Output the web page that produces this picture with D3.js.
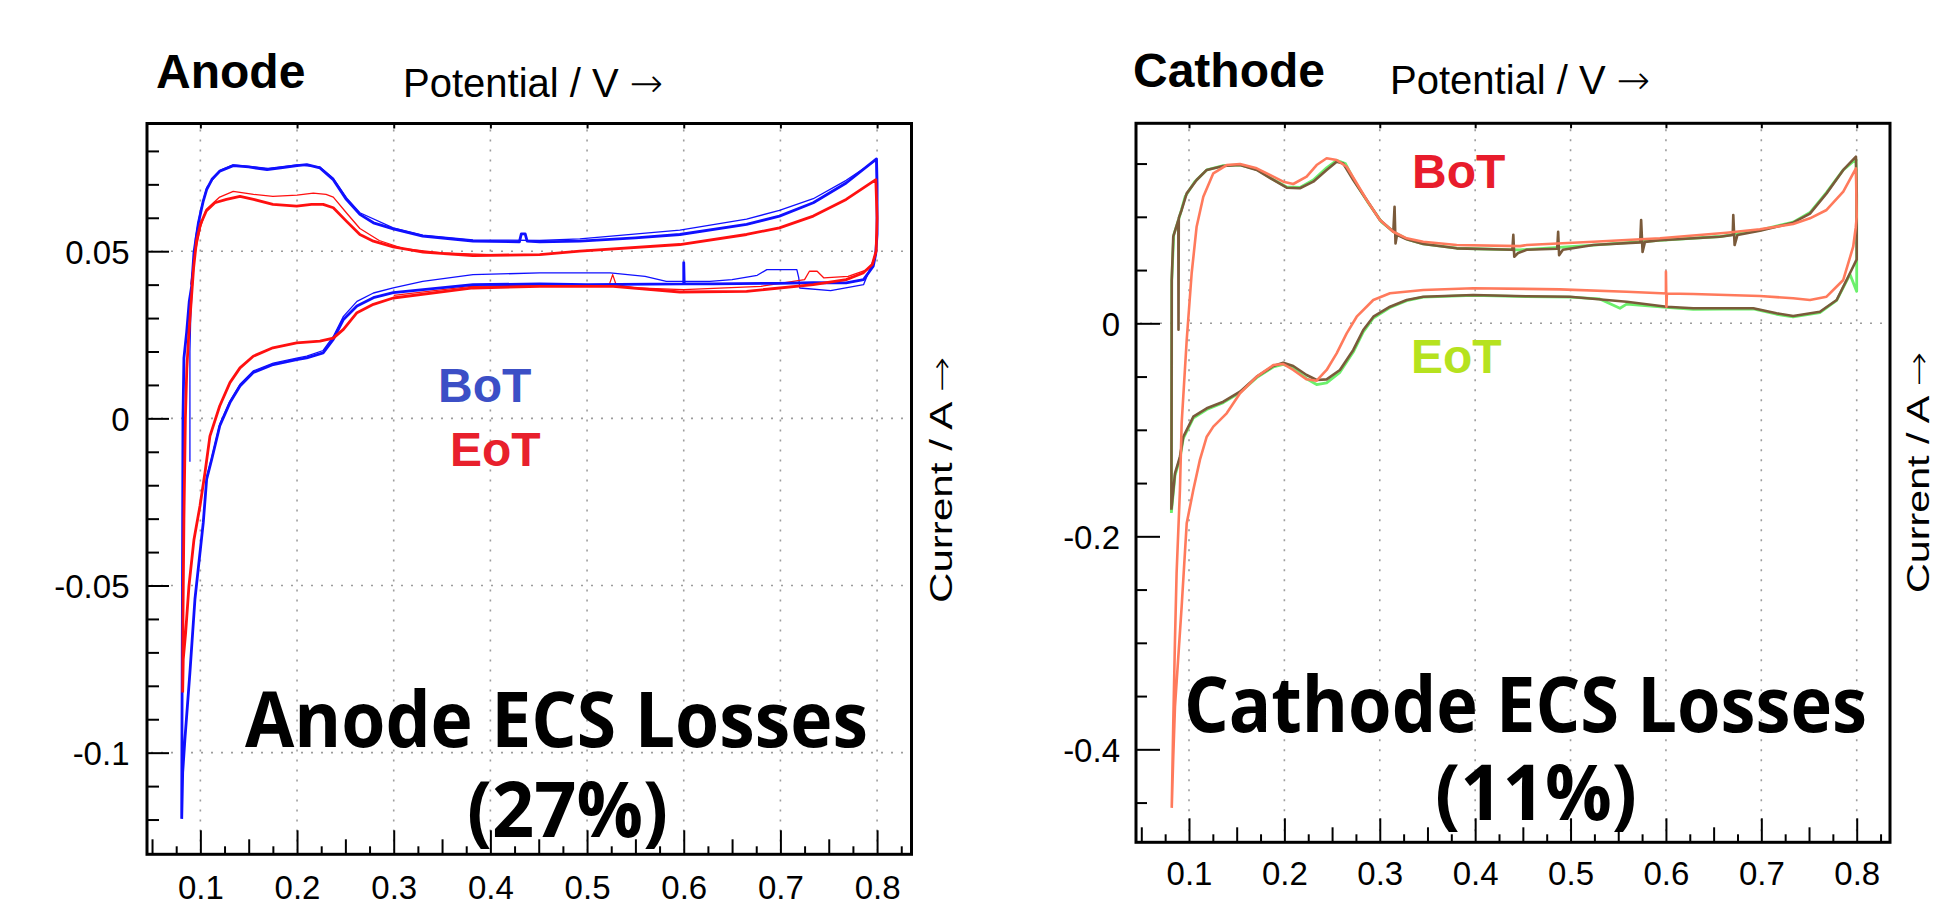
<!DOCTYPE html>
<html><head><meta charset="utf-8">
<script src="https://cdn.jsdelivr.net/npm/d3@7"></script>
<style>
html,body{margin:0;padding:0;background:#fff;}
svg{display:block;}
</style></head><body>
<svg id="c" width="1940" height="900"></svg>
<script>
// ---------------- DATA ----------------
const xTickValues = [0.1,0.2,0.3,0.4,0.5,0.6,0.7,0.8];
const xTickLabels = ["0.1","0.2","0.3","0.4","0.5","0.6","0.7","0.8"];
const xMidTicks = [0.05,0.15,0.25,0.35,0.45,0.55,0.65,0.75];
const xMinorTicks = [0.075,0.125,0.175,0.225,0.275,0.325,0.375,0.425,0.475,0.525,0.575,0.625,0.675,0.725,0.775,0.825];

const anodeYTickValues = [0.05,0,-0.05,-0.1];
const anodeYTickLabels = ["0.05","0","-0.05","-0.1"];
const anodeYMinorTicks = [0.08,0.07,0.06,0.04,0.03,0.02,0.01,-0.01,-0.02,-0.03,-0.04,-0.06,-0.07,-0.08,-0.09,-0.11,-0.12];

const cathodeYTickValues = [0,-0.2,-0.4];
const cathodeYTickLabels = ["0","-0.2","-0.4"];
const cathodeYMinorTicks = [0.15,0.1,0.05,-0.05,-0.1,-0.15,-0.25,-0.3,-0.35,-0.45];
const cathodeYGrid = [0];

// Anode, BoT, main cycle (potential V, current A)
const anodeBoT1 = [[0.0807,-0.1198],[0.0810,-0.090],[0.0815,-0.050],[0.0820,0.000],[0.0830,0.018],[0.0858,0.0257],[0.0885,0.035],[0.0910,0.0395],[0.0934,0.0496],[0.0980,0.0585],[0.1030,0.0650],[0.1065,0.0684],[0.1120,0.0715],[0.1200,0.0739],[0.1340,0.0756],[0.1500,0.0752],[0.1690,0.0744],[0.1850,0.0750],[0.2000,0.0756],[0.2100,0.0759],[0.2237,0.0749],[0.2375,0.0714],[0.2510,0.0655],[0.2650,0.0610],[0.2790,0.0585],[0.2995,0.0567],[0.3300,0.0545],[0.3820,0.0530],[0.4300,0.0528],[0.4320,0.0552],[0.4360,0.0552],[0.4380,0.0530],[0.4510,0.0528],[0.4925,0.0530],[0.5500,0.0540],[0.5960,0.0550],[0.6650,0.0580],[0.6990,0.0605],[0.7340,0.0645],[0.7680,0.0704],[0.7994,0.0776],[0.8000,0.0700],[0.8000,0.0550],[0.7985,0.0490],[0.7960,0.0455],[0.7860,0.0415],[0.7680,0.0405],[0.7340,0.0406],[0.6990,0.0404],[0.6300,0.0402],[0.6000,0.0402],[0.6000,0.0466],[0.6005,0.0402],[0.5000,0.0400],[0.4510,0.0402],[0.3820,0.0400],[0.2995,0.0376],[0.2790,0.0361],[0.2620,0.0336],[0.2480,0.0296],[0.2375,0.0236],[0.2270,0.0196],[0.2100,0.0181],[0.1996,0.0176],[0.1754,0.0161],[0.1547,0.0137],[0.1410,0.0097],[0.1306,0.0047],[0.1200,-0.0023],[0.1117,-0.0123],[0.1065,-0.0182],[0.1030,-0.0312],[0.0944,-0.0541],[0.0892,-0.0760],[0.0840,-0.0960],[0.0817,-0.1060],[0.0807,-0.1198]];
// Anode, BoT, second cycle
const anodeBoT2 = [[0.0892,-0.0130],[0.0892,0.0200],[0.0900,0.0300],[0.0920,0.0420],[0.0950,0.0540],[0.1000,0.0620],[0.1065,0.0690],[0.1200,0.0742],[0.1340,0.0758],[0.1700,0.0748],[0.2000,0.0758],[0.2237,0.0752],[0.2375,0.0718],[0.2510,0.0660],[0.2650,0.0615],[0.2995,0.0570],[0.3300,0.0548],[0.3820,0.0534],[0.4510,0.0532],[0.4925,0.0537],[0.5960,0.0563],[0.6650,0.0596],[0.6990,0.0622],[0.7340,0.0657],[0.7680,0.0712],[0.7990,0.0772],[0.8000,0.0600],[0.7990,0.0500],[0.7970,0.0480],[0.7860,0.0400],[0.7520,0.0382],[0.7200,0.0390],[0.7190,0.0420],[0.7170,0.0445],[0.6860,0.0445],[0.6760,0.0428],[0.6500,0.0415],[0.6270,0.0410],[0.5820,0.0410],[0.5600,0.0425],[0.5240,0.0435],[0.4510,0.0435],[0.3820,0.0430],[0.3300,0.0410],[0.2995,0.0390],[0.2790,0.0375],[0.2620,0.0350],[0.2480,0.0305],[0.2375,0.0245],[0.2270,0.0203],[0.2100,0.0186],[0.1996,0.0180],[0.1754,0.0165],[0.1547,0.0142],[0.1410,0.0102],[0.1306,0.0052],[0.1200,-0.0018],[0.1117,-0.0118],[0.1065,-0.0175]];
// Anode, EoT, main cycle
const anodeEoT1 = [[0.0817,-0.0820],[0.0820,-0.060],[0.0830,-0.030],[0.0845,0.000],[0.0860,0.015],[0.0880,0.025],[0.0905,0.035],[0.0930,0.045],[0.0960,0.0530],[0.1000,0.0580],[0.1060,0.0620],[0.1150,0.0645],[0.1270,0.0655],[0.1410,0.0664],[0.1550,0.0655],[0.1750,0.0640],[0.1996,0.0635],[0.2150,0.0640],[0.2270,0.0640],[0.2375,0.0630],[0.2510,0.0590],[0.2650,0.0550],[0.2790,0.0530],[0.2995,0.0513],[0.3305,0.0497],[0.3820,0.0487],[0.4510,0.0490],[0.4925,0.0500],[0.5960,0.0520],[0.6650,0.0550],[0.6990,0.0570],[0.7340,0.0605],[0.7680,0.0655],[0.7987,0.0714],[0.8000,0.0600],[0.7990,0.0500],[0.7950,0.0460],[0.7855,0.0435],[0.7680,0.0415],[0.7340,0.0400],[0.6650,0.0380],[0.5960,0.0378],[0.5270,0.0395],[0.4510,0.0395],[0.3820,0.0390],[0.2995,0.0360],[0.2790,0.0341],[0.2620,0.0316],[0.2480,0.0266],[0.2375,0.0240],[0.2237,0.0231],[0.1996,0.0226],[0.1750,0.0211],[0.1547,0.0186],[0.1410,0.0151],[0.1306,0.0107],[0.1200,0.0037],[0.1099,-0.0053],[0.1048,-0.0162],[0.0996,-0.0262],[0.0934,-0.0362],[0.0882,-0.0501],[0.0848,-0.0640],[0.0823,-0.0720],[0.0817,-0.0820]];
// Anode, EoT, second cycle (upper and lower parts)
const anodeEoT2a = [[0.0900,0.0400],[0.0950,0.0500],[0.1000,0.0570],[0.1060,0.0625],[0.1200,0.0662],[0.1340,0.0679],[0.1550,0.0670],[0.1750,0.0664],[0.2000,0.0668],[0.2168,0.0674],[0.2300,0.0670],[0.2375,0.0662],[0.2510,0.0615],[0.2650,0.0568],[0.2850,0.0532],[0.3100,0.0508],[0.3500,0.0495],[0.4000,0.0490]];
const anodeEoT2b = [[0.7900,0.0445],[0.7700,0.0425],[0.7450,0.0420],[0.7380,0.0440],[0.7300,0.0440],[0.7250,0.0415],[0.6800,0.0395],[0.6000,0.0385],[0.5500,0.0390],[0.5300,0.0400],[0.5265,0.0430],[0.5230,0.0400],[0.4500,0.0398],[0.3800,0.0395],[0.3000,0.0368]];

// Cathode curves
const cathodeGreen = [[0.0815,-0.178],[0.0817,-0.120],[0.0819,0.0400],[0.0840,0.0830],[0.0900,0.1000],[0.0960,0.1190],[0.1060,0.1330],[0.1186,0.1440],[0.1360,0.1480],[0.1535,0.1488],[0.1710,0.1445],[0.1884,0.1350],[0.2024,0.1280],[0.2163,0.1275],[0.2303,0.1345],[0.2443,0.1460],[0.2548,0.1530],[0.2640,0.1500],[0.2740,0.1330],[0.2880,0.1130],[0.3020,0.0950],[0.3160,0.0850],[0.3300,0.0785],[0.3456,0.0745],[0.3806,0.0705],[0.4470,0.0690],[0.5240,0.0735],[0.5937,0.0780],[0.6566,0.0815],[0.6985,0.0875],[0.7334,0.0950],[0.7510,0.1040],[0.7684,0.1230],[0.7859,0.1440],[0.7992,0.1540],[0.8000,0.1200],[0.8000,0.0300],[0.7929,0.0460],[0.7790,0.0215],[0.7614,0.0100],[0.7334,0.0060],[0.7160,0.0085],[0.6915,0.0135],[0.6286,0.0130],[0.6007,0.0150],[0.5588,0.0180],[0.5518,0.0141],[0.5300,0.0230],[0.4994,0.0245],[0.4540,0.0250],[0.3980,0.0262],[0.3456,0.0245],[0.3282,0.0212],[0.3107,0.0148],[0.2933,0.0050],[0.2827,-0.0080],[0.2722,-0.0270],[0.2582,-0.0460],[0.2443,-0.0560],[0.2338,-0.0575],[0.2233,-0.0520],[0.2093,-0.0420],[0.1988,-0.0385],[0.1884,-0.0410],[0.1710,-0.0510],[0.1535,-0.0650],[0.1360,-0.0745],[0.1186,-0.0810],[0.1045,-0.0890],[0.0940,-0.1080],[0.0905,-0.1270],[0.0853,-0.1430],[0.0819,-0.1740],[0.0815,-0.178]];
const cathodeBrown = [[0.0815,-0.175],[0.0817,-0.100],[0.0819,0.0407],[0.0835,0.0813],[0.0888,0.0970],[0.0890,-0.0060],[0.0893,0.0990],[0.0923,0.1064],[0.0976,0.1220],[0.1080,0.1346],[0.1186,0.1440],[0.1360,0.1477],[0.1535,0.1486],[0.1710,0.1440],[0.1884,0.1346],[0.2024,0.1273],[0.2163,0.1268],[0.2303,0.1330],[0.2443,0.1440],[0.2548,0.1518],[0.2617,0.1500],[0.2722,0.1346],[0.2863,0.1158],[0.3002,0.0970],[0.3142,0.0860],[0.3155,0.1095],[0.3165,0.0750],[0.3180,0.0830],[0.3282,0.0789],[0.3456,0.0745],[0.3806,0.0704],[0.4390,0.0690],[0.4400,0.0830],[0.4410,0.0625],[0.4450,0.0660],[0.4540,0.0690],[0.4860,0.0700],[0.4870,0.0860],[0.4880,0.0640],[0.4920,0.0690],[0.5240,0.0735],[0.5730,0.0760],[0.5740,0.0970],[0.5755,0.0670],[0.5780,0.0765],[0.5937,0.0780],[0.6566,0.0813],[0.6700,0.0830],[0.6706,0.1017],[0.6720,0.0735],[0.6750,0.0830],[0.6985,0.0870],[0.7334,0.0945],[0.7510,0.1030],[0.7684,0.1220],[0.7859,0.1440],[0.7992,0.1565],[0.8000,0.1200],[0.8000,0.0600],[0.7929,0.0470],[0.7790,0.0219],[0.7614,0.0109],[0.7334,0.0069],[0.7160,0.0094],[0.6915,0.0141],[0.6286,0.0141],[0.6007,0.0156],[0.5588,0.0203],[0.4994,0.0250],[0.4540,0.0254],[0.3980,0.0266],[0.3456,0.0250],[0.3282,0.0219],[0.3107,0.0156],[0.2933,0.0062],[0.2827,-0.0063],[0.2722,-0.0250],[0.2582,-0.0438],[0.2443,-0.0526],[0.2338,-0.0532],[0.2233,-0.0485],[0.2093,-0.0401],[0.1988,-0.0370],[0.1884,-0.0401],[0.1710,-0.0501],[0.1535,-0.0642],[0.1360,-0.0736],[0.1186,-0.0798],[0.1045,-0.0877],[0.0940,-0.1065],[0.0905,-0.1253],[0.0853,-0.1408],[0.0819,-0.1720],[0.0815,-0.175]];
const cathodeSalmon = [[0.0819,-0.455],[0.0835,-0.3756],[0.0853,-0.2970],[0.0870,-0.2347],[0.0905,-0.1565],[0.0923,-0.0939],[0.0976,-0.0157],[0.1028,0.0470],[0.1080,0.0907],[0.1150,0.1189],[0.1255,0.1408],[0.1395,0.1486],[0.1535,0.1496],[0.1710,0.1455],[0.1884,0.1377],[0.1988,0.1330],[0.2093,0.1308],[0.2233,0.1377],[0.2338,0.1486],[0.2443,0.1550],[0.2548,0.1533],[0.2653,0.1470],[0.2758,0.1315],[0.2863,0.1158],[0.3002,0.0970],[0.3142,0.0860],[0.3282,0.0798],[0.3456,0.0766],[0.3806,0.0735],[0.4470,0.0725],[0.4540,0.0735],[0.5240,0.0766],[0.5937,0.0798],[0.6636,0.0851],[0.6985,0.0883],[0.7334,0.0932],[0.7510,0.0986],[0.7684,0.1064],[0.7859,0.1236],[0.7992,0.1455],[0.8000,0.1000],[0.7990,0.0900],[0.7963,0.0719],[0.7859,0.0407],[0.7684,0.0250],[0.7510,0.0219],[0.7334,0.0235],[0.6985,0.0256],[0.6286,0.0275],[0.6000,0.0280],[0.6000,0.0485],[0.6005,0.0156],[0.6010,0.0280],[0.5588,0.0297],[0.4889,0.0319],[0.3980,0.0329],[0.3456,0.0313],[0.3107,0.0282],[0.2932,0.0219],[0.2758,0.0062],[0.2653,-0.0094],[0.2548,-0.0282],[0.2443,-0.0438],[0.2338,-0.0539],[0.2233,-0.0526],[0.2093,-0.0438],[0.1988,-0.0382],[0.1884,-0.0392],[0.1710,-0.0501],[0.1535,-0.0657],[0.1395,-0.0845],[0.1255,-0.0970],[0.1186,-0.1065],[0.1115,-0.1280],[0.1045,-0.1565],[0.0976,-0.1878],[0.0923,-0.2660],[0.0888,-0.3130],[0.0853,-0.3600],[0.0835,-0.4070],[0.0819,-0.455]];

// ---------------- DRAW ----------------
const svg = d3.select("#c");
const SANS = "'Liberation Sans', Arial, sans-serif";
const ARROWF = "'DejaVu Sans', sans-serif";
const BIG = "'Open Sans', 'Noto Sans', sans-serif";

function panel(cfg){
  const g = svg.append("g");
  const x = d3.scaleLinear().domain(cfg.xDomain).range([cfg.left, cfg.right]);
  const y = d3.scaleLinear().domain(cfg.yDomain).range([cfg.bottom, cfg.top]);

  // grid
  g.append("g").selectAll("line").data(xTickValues).join("line")
    .attr("x1", d=>x(d)).attr("x2", d=>x(d)).attr("y1", cfg.top+6).attr("y2", cfg.bottom-4)
    .attr("stroke","#9c9c9c").attr("stroke-width",1.6).attr("stroke-dasharray","2,8");
  g.append("g").selectAll("line").data(cfg.yGrid).join("line")
    .attr("y1", d=>y(d)).attr("y2", d=>y(d)).attr("x1", cfg.left+4).attr("x2", cfg.right-4)
    .attr("stroke","#9c9c9c").attr("stroke-width",1.6).attr("stroke-dasharray","2,8");

  // curves
  const line = d3.line().x(d=>x(d[0])).y(d=>y(d[1]));
  cfg.series.forEach(s=>{
    g.append("path").datum(s.data).attr("d", line)
      .attr("fill","none").attr("stroke", s.color).attr("stroke-width", s.width)
      .attr("stroke-linejoin","round");
  });

  // axes
  const fmtY = (d)=>cfg.yLabels[cfg.yTicks.indexOf(d)];
  const fmtX = (d)=>xTickLabels[xTickValues.indexOf(d)];
  const ax = [];
  ax.push(g.append("g").attr("transform",`translate(${cfg.left},0)`)
    .call(d3.axisLeft(y).tickValues(cfg.yTicks).tickSize(-cfg.yMajorLen).tickPadding(cfg.yPad).tickFormat(fmtY)));
  ax.push(g.append("g").attr("transform",`translate(${cfg.left},0)`)
    .call(d3.axisLeft(y).tickValues(cfg.yMinor).tickSize(-cfg.yMinorLen).tickFormat("")));
  ax.push(g.append("g").attr("transform",`translate(0,${cfg.bottom})`)
    .call(d3.axisBottom(x).tickValues(xTickValues).tickSize(-24).tickPadding(cfg.xPad).tickFormat(fmtX)));
  ax.push(g.append("g").attr("transform",`translate(0,${cfg.bottom})`)
    .call(d3.axisBottom(x).tickValues(xMidTicks.filter(v=>v>cfg.xDomain[0]&&v<cfg.xDomain[1])).tickSize(-15).tickFormat("")));
  ax.push(g.append("g").attr("transform",`translate(0,${cfg.bottom})`)
    .call(d3.axisBottom(x).tickValues(xMinorTicks.filter(v=>v>cfg.xDomain[0]&&v<cfg.xDomain[1])).tickSize(-8).tickFormat("")));
  ax.push(g.append("g").attr("transform",`translate(0,${cfg.top})`)
    .call(d3.axisTop(x).tickValues(xTickValues).tickSize(-5).tickFormat("")));
  ax.forEach(a=>{
    a.select(".domain").remove();
    a.selectAll(".tick line").attr("stroke","#000").attr("stroke-width",2);
    a.selectAll("text").attr("font-family",SANS).attr("font-size",33).attr("fill","#000");
  });
  ax[0].selectAll("text").attr("dy","0.36em");

  // frame
  g.append("rect").attr("x",cfg.left).attr("y",cfg.top)
    .attr("width",cfg.right-cfg.left).attr("height",cfg.bottom-cfg.top)
    .attr("fill","none").attr("stroke","#000").attr("stroke-width",3);

  // titles
  g.append("text").attr("x",cfg.titleX).attr("y",cfg.titleY).text(cfg.title)
    .attr("font-family",SANS).attr("font-weight","bold").attr("font-size",48);
  const pt = g.append("text").attr("x",cfg.potX).attr("y",cfg.potY)
    .attr("font-family",SANS).attr("font-size",40);
  pt.append("tspan").text("Potential / V ");
  pt.append("tspan").attr("font-family",ARROWF).attr("font-weight",200).text("\u2192");
  const ct = g.append("text").attr("transform",`translate(${cfg.curX},${cfg.curY}) rotate(-90)`)
    .attr("font-family",SANS).attr("font-size",31)
    .attr("textLength",cfg.curLen).attr("lengthAdjust","spacingAndGlyphs");
  ct.append("tspan").text("Current / A ");
  ct.append("tspan").attr("font-family",ARROWF).attr("font-weight",200).text("\u2192");

  // labels
  cfg.labels.forEach(l=>{
    g.append("text").attr("x",l.x).attr("y",l.y).text(l.t).attr("fill",l.c)
      .attr("font-family",SANS).attr("font-weight","bold").attr("font-size",48);
  });
  cfg.big.forEach(b=>{
    const t = g.append("text").attr("x",b.cx).attr("y",b.y).text(b.t)
      .attr("text-anchor","middle").attr("font-family",BIG).attr("font-weight",700)
      .attr("font-size",77).attr("fill","#000");
    t.attr("textLength",b.w).attr("lengthAdjust","spacingAndGlyphs");
  });
}

panel({
  left:147, right:911.5, top:123.5, bottom:854.3,
  xDomain:[0.0448,0.8356], yDomain:[-0.1304,0.0882],
  yTicks:anodeYTickValues, yLabels:anodeYTickLabels, yMinor:anodeYMinorTicks, yGrid:anodeYTickValues,
  yMajorLen:22, yMinorLen:12, yPad:17.5, xPad:21,
  series:[
    {data:anodeBoT2, color:"#1010ff", width:1.3},
    {data:anodeEoT2a, color:"#ff1010", width:1.3},
    {data:anodeEoT2b, color:"#ff1010", width:1.3},
    {data:anodeBoT1, color:"#1010ff", width:2.8},
    {data:anodeEoT1, color:"#ff1010", width:2.8}
  ],
  title:"Anode", titleX:156, titleY:88, potX:403, potY:97,
  curX:952, curY:603, curLen:246,
  labels:[{t:"BoT",x:438,y:402,c:"#3c4fc6"},{t:"EoT",x:450,y:466,c:"#e8202c"}],
  big:[{t:"Anode ECS Losses",cx:556.5,y:747,w:623},{t:"(27%)",cx:567.5,y:837,w:201}]
});

panel({
  left:1136, right:1890, top:123.3, bottom:842.3,
  xDomain:[0.04444,0.8349], yDomain:[-0.4873,0.1878],
  yTicks:cathodeYTickValues, yLabels:cathodeYTickLabels, yMinor:cathodeYMinorTicks, yGrid:cathodeYGrid,
  yMajorLen:24, yMinorLen:11, yPad:16, xPad:19.5,
  series:[
    {data:cathodeGreen, color:"#6cf06c", width:2.8},
    {data:cathodeBrown, color:"#7a5a3a", width:2.6},
    {data:cathodeSalmon, color:"#ff7a5c", width:2.6}
  ],
  title:"Cathode", titleX:1133, titleY:87, potX:1390, potY:94,
  curX:1929, curY:593, curLen:241,
  labels:[{t:"BoT",x:1412,y:188,c:"#e81c2c"},{t:"EoT",x:1411,y:373,c:"#b6e21e"}],
  big:[{t:"Cathode ECS Losses",cx:1525.5,y:732,w:683},{t:"(11%)",cx:1536,y:820,w:202}]
});
</script></body></html>
